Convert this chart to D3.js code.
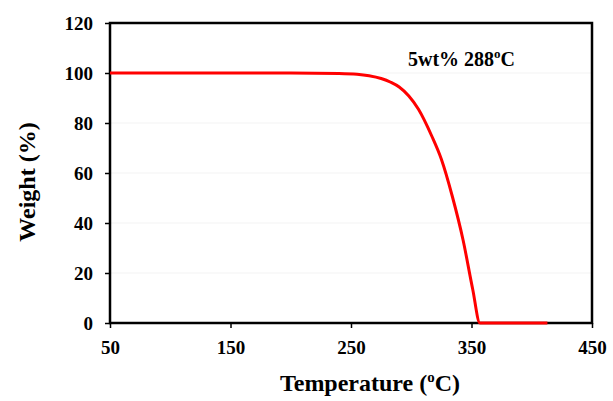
<!DOCTYPE html>
<html>
<head>
<meta charset="utf-8">
<script src="https://cdn.jsdelivr.net/npm/d3@7"></script>
<style>
  body { margin: 0; background: #fff; }
  svg { display: block; }
  text { font-family: "Liberation Serif", "Times New Roman", serif; font-weight: bold; fill: #000; }
</style>
</head>
<body>
<svg width="613" height="401"></svg>
<script>
// TGA curve
var temps   = [50, 150, 200, 240, 255, 265, 275, 283, 290, 298, 306, 317, 325, 334, 343, 351, 357, 413];
var weights = [100, 100, 100, 99.8, 99.5, 98.9, 97.8, 96.3, 94.4, 90.8, 85.5, 74.8, 65.5, 50.8, 33.2, 13.5, 0, 0];
var xTicks = [50, 150, 250, 350, 450];
var yTicks = [0, 20, 40, 60, 80, 100, 120];

var data = temps.map(function(t, i) { return { t: t, w: weights[i] }; });

var margin = { top: 23, right: 21, bottom: 78, left: 110 },
	width = 613 - margin.left - margin.right,
	height = 401 - margin.top - margin.bottom;

var svg = d3.select("svg")
	.append("g").attr("transform", "translate(" + margin.left + "," + margin.top + ")");

var xScale = d3.scaleLinear().domain([50, 450]).range([0, width]);
var yScale = d3.scaleLinear().domain([0, 120]).range([height, 0]);

// faint grid
svg.selectAll(".grid")
	.data(yTicks.slice(1, -1))
	.enter().append("line")
		.attr("x1", 0).attr("x2", width)
		.attr("y1", function(d) { return yScale(d); })
		.attr("y2", function(d) { return yScale(d); })
		.attr("stroke", "#f3f3f3")
		.attr("stroke-width", 1);

var xAxis = d3.axisBottom(xScale).tickValues(xTicks).tickSize(5).tickPadding(13);
var yAxis = d3.axisLeft(yScale).tickValues(yTicks).tickSize(5).tickPadding(12);

var gx = svg.append("g")
	.attr("transform", "translate(0," + height + ")")
	.call(xAxis);
var gy = svg.append("g").call(yAxis);

[gx, gy].forEach(function(g) {
	g.select(".domain").remove();
	g.selectAll("line").attr("stroke", "#000").attr("stroke-width", 1.5);
	g.selectAll("text").style("font-size", "19px").style("font-family", "Liberation Serif");
});

// box
svg.append("rect")
	.attr("width", width)
	.attr("height", height)
	.attr("fill", "none")
	.attr("stroke", "#000")
	.attr("stroke-width", 2.5);

var line = d3.line()
	.curve(d3.curveMonotoneX)
	.x(function(d) { return xScale(d.t); })
	.y(function(d) { return yScale(d.w); });

svg.append("path")
	.datum(data)
	.attr("fill", "none")
	.attr("stroke", "#ff0000")
	.attr("stroke-width", 3)
	.attr("stroke-linejoin", "round")
	.attr("d", line);

// annotation
var ann = svg.append("text")
	.attr("x", 298)
	.attr("y", 43)
	.style("font-size", "20px");
ann.append("tspan").text("5wt% 288");
ann.append("tspan").attr("dy", -8).style("font-size", "13px").text("o");
ann.append("tspan").attr("dy", 8).text("C");

// axis titles
var xt = svg.append("text")
	.attr("x", 260)
	.attr("y", height + 68)
	.attr("text-anchor", "middle")
	.style("font-size", "24px");
xt.append("tspan").text("Temperature (");
xt.append("tspan").attr("dy", -9).style("font-size", "15px").text("o");
xt.append("tspan").attr("dy", 9).text("C)");

svg.append("text")
	.attr("transform", "rotate(-90)")
	.attr("x", -159)
	.attr("y", -75)
	.attr("text-anchor", "middle")
	.style("font-size", "24px")
	.text("Weight (%)");
</script>
</body>
</html>
